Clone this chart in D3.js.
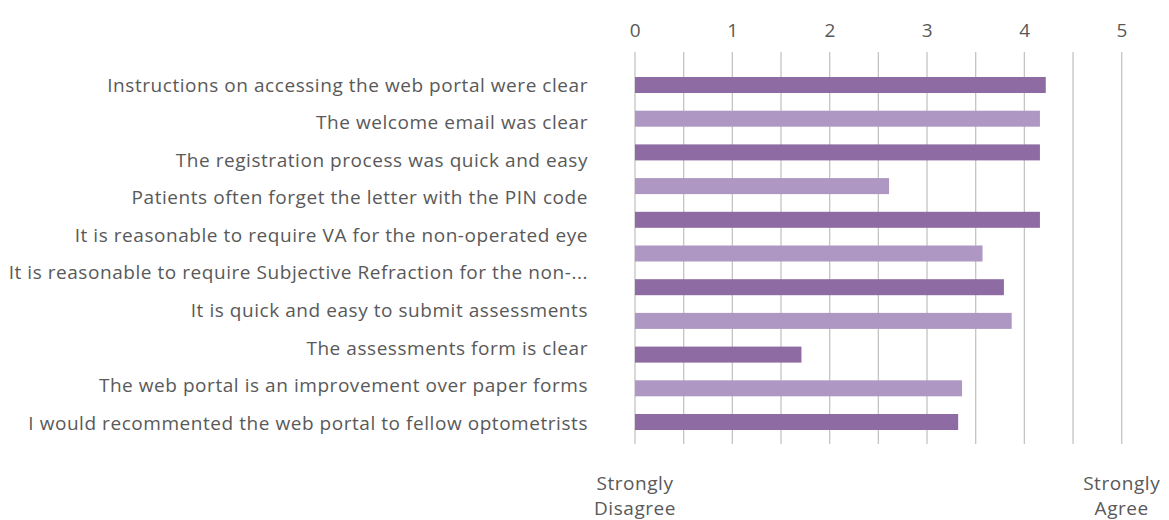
<!DOCTYPE html>
<html>
<head>
<meta charset="utf-8">
<script src="https://cdn.jsdelivr.net/npm/d3@7.9.0/dist/d3.min.js"></script>
<style>
  html, body { margin: 0; padding: 0; background: #fff; }
  svg text { font-family: "Open Sans", "Noto Sans", sans-serif; fill: #595959; letter-spacing: 0.55px; }
</style>
</head>
<body>
<svg id="chart" width="1169" height="520"></svg>
<script>
// row labels as printed (10 of them, spaced independently of the 11 bars)
const statements = [
  "Instructions on accessing the web portal were clear",
  "The welcome email was clear",
  "The registration process was quick and easy",
  "Patients often forget the letter with the PIN code",
  "It is reasonable to require VA for the non-operated eye",
  "It is reasonable to require Subjective Refraction for the non-...",
  "It is quick and easy to submit assessments",
  "The assessments form is clear",
  "The web portal is an improvement over paper forms",
  "I would recommented the web portal to fellow optometrists"
];
// bar values, top to bottom
const scores = [4.22, 4.16, 4.16, 2.61, 4.16, 3.57, 3.79, 3.87, 1.71, 3.36, 3.32];
const xTicks = [0, 1, 2, 3, 4, 5];
const gridSteps = [0, 0.5, 1, 1.5, 2, 2.5, 3, 3.5, 4, 4.5, 5];
const endLabels = [
  {value: 0, lines: ["Strongly", "Disagree"]},
  {value: 5, lines: ["Strongly", "Agree"]}
];
const barColors = ["#8f6ba3", "#ae97c3"];

const svg = d3.select("#chart");

const x = d3.scaleLinear().domain([0, 5]).range([635, 1121.7]);

const yBar = d3.scaleBand()
  .domain(d3.range(scores.length))
  .range([68.15, 438.85])
  .paddingInner(0.525)
  .paddingOuter(0.2625);

const yLabel = d3.scalePoint()
  .domain(statements)
  .range([85, 423]);

// gridlines
svg.append("g")
  .selectAll("line")
  .data(gridSteps)
  .join("line")
  .attr("x1", d => x(d)).attr("x2", d => x(d))
  .attr("y1", 52).attr("y2", 444)
  .attr("stroke", "#c4c4c4")
  .attr("stroke-width", 1.3);

// top axis
const xAxis = d3.axisTop(x).tickValues(xTicks).tickSize(0).tickPadding(0).tickFormat(d3.format("d"));
svg.append("g")
  .attr("transform", "translate(0,37)")
  .call(xAxis)
  .call(g => g.select(".domain").remove())
  .call(g => g.selectAll("text")
    .attr("fill", "#595959")
    .style("font-size", "19px")
    .style("font-family", "\"Open Sans\", sans-serif"));

// bars
svg.append("g")
  .selectAll("rect")
  .data(scores)
  .join("rect")
  .attr("x", x(0))
  .attr("y", (d, i) => yBar(i))
  .attr("width", d => x(d) - x(0))
  .attr("height", yBar.bandwidth())
  .attr("fill", (d, i) => barColors[i % 2]);

// row labels
svg.append("g")
  .selectAll("text")
  .data(statements)
  .join("text")
  .attr("x", 588)
  .attr("y", d => yLabel(d))
  .attr("dy", "0.35em")
  .attr("text-anchor", "end")
  .style("font-size", "19px")
  .text(d => d);

// end labels
const ends = svg.append("g")
  .selectAll("text")
  .data(endLabels)
  .join("text")
  .attr("text-anchor", "middle")
  .style("font-size", "19px");
ends.selectAll("tspan")
  .data(d => d.lines.map(l => ({l, v: d.value})))
  .join("tspan")
  .attr("x", d => x(d.v))
  .attr("y", (d, i) => 490 + i * 25)
  .text(d => d.l);
</script>
</body>
</html>
